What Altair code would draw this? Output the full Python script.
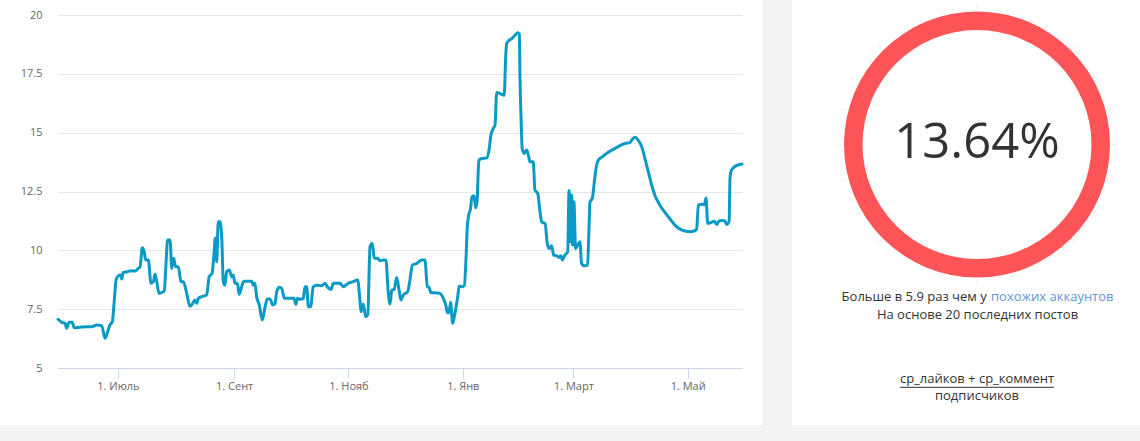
import math
import altair as alt
import pandas as pd

# ---------------- data ----------------
start_date = "2018-05-30"
day_offsets = [
    0.0, 2.0, 3.7, 4.6, 5.9, 7.6, 8.7, 11.7, 15.3, 18.0, 20.7, 23.3, 25.1, 26.5, 27.7, 29.0,
    30.0, 31.0, 32.2, 33.5, 34.0, 34.8, 36.7, 39.3, 41.1, 42.8, 43.8, 45.0, 46.0, 46.8, 48.2,
    49.6, 50.9, 51.8, 52.7, 53.9, 55.3, 56.7, 57.6, 58.5, 59.8, 60.7, 61.7, 62.8, 64.2, 65.6,
    66.9, 68.7, 70.4, 71.7, 73.1, 74.0, 74.9, 76.7, 79.3, 80.7, 82.2, 83.2, 83.9, 84.7, 85.5,
    86.4, 87.4, 88.2, 89.1, 90.0, 91.4, 92.7, 93.5, 94.5, 95.7, 96.7, 98.0, 99.2, 101.5, 103.4,
    104.2, 105.1, 106.0, 107.4, 109.0, 110.5, 111.7, 113.1, 114.6, 115.8, 116.7, 118.1, 119.4,
    120.8, 122.9, 125.9, 127.0, 127.7, 129.1, 130.9, 131.8, 132.7, 133.6, 134.8, 136.2, 138.0,
    140.7, 142.5, 143.7, 145.7, 146.9, 150.5, 152.2, 154.9, 157.6, 159.9, 161.1, 161.7, 162.9,
    164.2, 165.3, 166.5, 167.7, 168.8, 170.6, 171.8, 173.6, 175.0, 176.2, 177.2, 178.1, 179.4,
    180.7, 182.0, 183.0, 184.2, 186.6, 187.8, 189.1, 191.4, 194.1, 195.8, 197.1, 198.0, 199.0,
    201.2, 203.8, 205.6, 206.9, 207.9, 208.6, 209.5, 210.6, 211.8, 213.3, 214.1, 215.7, 216.8,
    217.8, 218.4, 219.3, 220.1, 220.9, 222.0, 222.9, 223.6, 224.6, 226.1, 228.8, 230.0, 231.0,
    232.3, 233.2, 234.1, 235.9, 238.1, 238.9, 239.4, 240.7, 242.1, 243.9, 245.3, 246.2, 246.5,
    247.1, 247.7, 248.8, 250.1, 251.0, 251.9, 253.6, 254.5, 256.0, 257.2, 258.1, 259.9, 261.1,
    262.0, 263.4, 264.5, 266.1, 267.3, 268.4, 269.1, 270.5, 272.0, 272.7, 273.4, 274.1, 274.6,
    275.3, 276.2, 277.3, 278.5, 279.4, 280.8, 282.6, 283.3, 283.9, 285.1, 286.2, 287.1, 288.3,
    290.4, 292.8, 294.5, 297.2, 299.9, 302.6, 305.2, 306.1, 307.9, 309.6, 311.5, 313.2, 315.0,
    316.8, 318.6, 321.2, 323.9, 326.6, 329.2, 331.9, 334.6, 337.2, 339.5, 340.8, 341.7, 343.8,
    344.9, 345.8, 346.7, 348.4, 350.2, 351.5, 352.7, 354.5, 355.9, 356.8, 358.1, 358.6, 359.1,
    360.3, 362.7, 365.0,
]
values = [
    7.07, 6.94, 6.90, 6.69, 6.94, 6.94, 6.71, 6.73, 6.75, 6.75, 6.83, 6.80, 6.26, 6.54, 6.83, 6.97,
    7.82, 8.74, 8.92, 8.95, 8.78, 9.06, 9.09, 9.13, 9.12, 9.23, 9.30, 10.11, 9.94, 9.59, 9.59,
    8.60, 8.67, 8.98, 8.67, 8.17, 8.21, 8.27, 9.37, 10.44, 10.44, 9.23, 9.66, 9.30, 9.30, 8.67,
    8.67, 8.17, 7.62, 7.72, 7.89, 7.75, 7.96, 8.03, 8.10, 8.88, 9.02, 9.80, 10.51, 9.51, 11.21,
    11.21, 10.51, 8.67, 8.52, 9.09, 9.16, 8.88, 8.95, 8.60, 8.60, 8.13, 8.45, 8.69, 8.69, 8.69,
    8.52, 8.60, 8.03, 7.68, 7.04, 7.60, 7.93, 7.93, 7.68, 7.75, 8.24, 8.43, 8.38,
    7.96, 7.96, 7.96, 7.70, 7.96, 7.92, 7.96, 8.45, 8.45, 7.60, 7.60, 8.45, 8.52,
    8.50, 8.60, 8.45, 8.34, 8.60, 8.60, 8.45, 8.60, 8.67, 8.74, 7.89, 7.39, 7.72,
    7.18, 7.25, 10.15, 10.29, 9.66, 9.66, 9.56, 9.59, 9.59, 8.24, 7.72, 8.31, 8.34,
    8.85, 8.31, 7.89, 8.10, 8.24, 8.74, 9.37, 9.44, 9.59, 9.59, 8.45, 8.43, 8.20,
    8.20, 8.17, 7.96, 7.68, 7.35, 7.35, 7.79, 6.90, 7.32, 8.03, 8.48, 8.45, 8.50,
    9.80, 11.00, 11.55, 11.75, 12.27, 12.32, 11.81, 12.06, 13.83, 13.90, 13.93, 14.26, 14.89,
    15.18, 15.32, 16.71, 16.66, 16.59, 18.22, 18.78, 18.93, 18.99, 19.14, 19.25, 19.20, 17.44,
    15.60, 14.33, 14.12, 14.26, 14.04, 13.76, 13.76, 12.56, 12.42, 11.64, 11.21, 11.14, 10.29,
    10.08, 10.19, 9.80, 9.77, 9.70, 9.77, 9.59, 9.80, 9.94, 12.54, 10.37, 12.35, 10.22,
    12.06, 10.08, 10.22, 10.37, 9.44, 9.34, 9.37, 10.79, 12.06, 12.20, 12.91, 13.48, 13.83,
    13.97, 14.12, 14.21, 14.33, 14.45, 14.54, 14.58, 14.68, 14.80, 14.68, 14.40, 13.90, 13.34,
    12.77, 12.32, 11.92, 11.61, 11.33, 11.07, 10.90, 10.82, 10.79, 10.82, 10.90, 11.92, 11.96,
    11.94, 12.22, 11.14, 11.18, 11.24, 11.10, 11.24, 11.27, 11.25, 11.10, 11.21, 13.05, 13.34,
    13.50, 13.62, 13.67,
]

x_tick_months = [(2018, 7), (2018, 9), (2018, 11), (2019, 1), (2019, 3), (2019, 5)]
x_tick_labels = ["1. Июль", "1. Сент", "1. Нояб", "1. Янв", "1. Март", "1. Май"]
y_ticks = [5, 7.5, 10, 12.5, 15, 17.5, 20]

gauge_value = [13.64]
gauge_label = "13.64%"
gauge_tick_degrees = list(range(0, 360, 15))
caption_dark = "Больше в 5.9 раз чем у"
caption_link = "похожих аккаунтов"
caption_line2 = "На основе 20 последних постов"
formula_top = "ср_лайков + ср_коммент"
formula_bottom = "подписчиков"

# ---------------- styling ----------------
FONT = "Open Sans"
LINE_COLOR = "#0a9ac6"
RING_COLOR = "#fd5457"
TEXT_DARK = "#333333"
LINK_COLOR = "#6396d6"
PAGE_GRAY = "#f4f4f4"

dates = pd.Timestamp(start_date) + pd.to_timedelta(day_offsets, unit="D")
df = pd.DataFrame({"date": dates, "value": values})

label_expr = ""
for (yy, mm), lab in zip(x_tick_months, x_tick_labels):
    label_expr += f"month(datum.value)=={mm - 1} ? '{lab}' : "
label_expr += "''"

one = pd.DataFrame({"k": [0]})

# gray page strips around the white cards
gap_strip = alt.Chart(one).mark_rect(color=PAGE_GRAY).encode(
    x=alt.value(704), x2=alt.value(734), y=alt.value(-15), y2=alt.value(426)
)
bottom_strip = alt.Chart(one).mark_rect(color=PAGE_GRAY).encode(
    x=alt.value(-58), x2=alt.value(1082), y=alt.value(410), y2=alt.value(426)
)

line = alt.Chart(df).mark_line(
    color=LINE_COLOR, strokeWidth=3, interpolate="monotone",
    strokeJoin="round", strokeCap="round"
).encode(
    x=alt.X(
        "date:T",
        scale=alt.Scale(
            domain=[alt.DateTime(year=2018, month=5, date=30),
                    alt.DateTime(year=2019, month=5, date=30)],
            nice=False,
        ),
        axis=alt.Axis(
            values=[alt.DateTime(year=yy, month=mm, date=1) for yy, mm in x_tick_months],
            labelExpr=label_expr, title=None, grid=False,
            domainColor="#ccd6eb", tickColor="#ccd6eb", tickSize=10,
            labelColor="#666666", labelFontSize=11, labelFont=FONT, labelPadding=2,
        ),
    ),
    y=alt.Y(
        "value:Q",
        scale=alt.Scale(domain=[5, 20], nice=False, zero=False),
        axis=alt.Axis(
            values=y_ticks, format=".1~f", title=None, domain=False, ticks=False,
            grid=True, gridColor="#e6e6e6", labelPadding=16,
            labelColor="#666666", labelFontSize=11, labelFont=FONT,
        ),
    ),
)

CX, CY = 919, 129.5

ticks_df = pd.DataFrame({
    "a": [math.radians(d) - 0.0035 for d in gauge_tick_degrees],
    "a2": [math.radians(d) + 0.0035 for d in gauge_tick_degrees],
})
gauge_ticks = alt.Chart(ticks_df).mark_arc(
    innerRadius=134.5, outerRadius=139.5, color="#eeeeee"
).encode(
    theta=alt.Theta("a:Q", scale=None, stack=False),
    theta2="a2:Q",
    x=alt.value(CX), y=alt.value(CY),
)

ring = alt.Chart(pd.DataFrame({"v": gauge_value})).mark_arc(
    innerRadius=114.5, outerRadius=133, color=RING_COLOR
).encode(
    theta=alt.Theta("v:Q"),
    x=alt.value(CX), y=alt.value(CY),
)

def txt(text, x, y, size=13, color=TEXT_DARK, align="center"):
    return alt.Chart(one).mark_text(
        text=text, font=FONT, fontSize=size, color=color, align=align,
        baseline="alphabetic"
    ).encode(x=alt.value(x), y=alt.value(y))

big = txt(gauge_label, CX, 143.3, size=49)
cap1 = txt(caption_dark, 928.7, 286, align="right")
cap2 = txt(caption_link, 933, 286, color=LINK_COLOR, align="left")
cap3 = txt(caption_line2, 919.5, 304)
f_top = txt(formula_top, 919, 368.3)
f_bot = txt(formula_bottom, 919, 385)
f_rule = alt.Chart(one).mark_rule(color=TEXT_DARK, strokeWidth=1).encode(
    x=alt.value(842), x2=alt.value(996), y=alt.value(372.3)
)

chart = alt.layer(
    gap_strip, bottom_strip, line, gauge_ticks, ring,
    big, cap1, cap2, cap3, f_top, f_bot, f_rule
).resolve_scale(theta="independent").properties(
    width=684, height=353,
    autosize=alt.AutoSizeParams(type="none"),
    padding={"left": 58, "top": 15, "right": 398, "bottom": 73},
    background="white",
).configure(font=FONT).configure_view(strokeWidth=0, stroke="transparent")

chart.save("out.html", embed_options={"renderer": "svg", "actions": False})
